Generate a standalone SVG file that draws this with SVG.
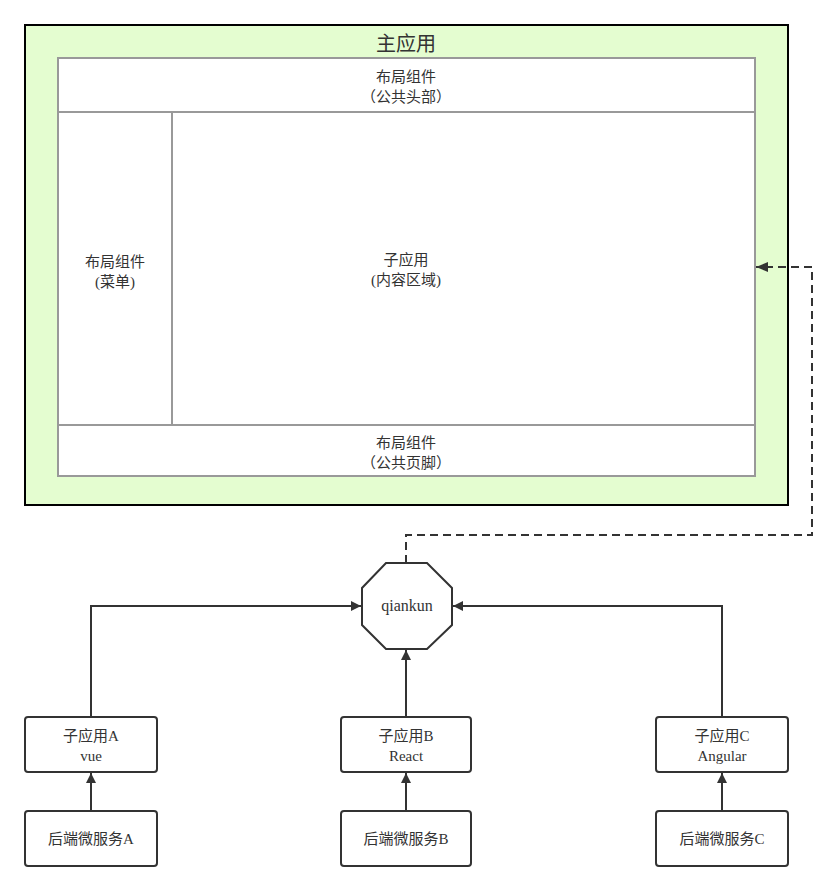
<svg xmlns="http://www.w3.org/2000/svg" width="837" height="891" viewBox="0 0 837 891">
<defs>
<style>
text{font-family:"Liberation Serif","Noto Sans CJK SC",serif;font-size:15px;fill:#333;text-anchor:middle}
.panel{fill:#fff;stroke:#999;stroke-width:2}
.box{fill:#fff;stroke:#333;stroke-width:2}
.conn{fill:none;stroke:#333;stroke-width:2}
.dash{stroke-dasharray:8 5}
</style>
<marker id="ah" viewBox="0 0 10 10" refX="10" refY="5" markerWidth="10" markerHeight="10" markerUnits="userSpaceOnUse" orient="auto">
<path d="M0,0 L10,5 L0,10 z" fill="#333"/>
</marker>
<marker id="ah2" viewBox="0 0 12 10" refX="12" refY="5" markerWidth="12" markerHeight="10" markerUnits="userSpaceOnUse" orient="auto">
<path d="M0,0 L12,5 L0,10 z" fill="#333"/>
</marker>
</defs>
<g id="main-app">
<rect x="25" y="25" width="763" height="480" fill="#e4fdd0" stroke="#000" stroke-width="2"/>
<text x="406" y="51" style="font-size:20px">主应用</text>
</g>
<g id="header">
<rect class="panel" x="58" y="58" width="697" height="54"/>
<text x="406" y="82">布局组件</text>
<text x="406" y="102">（公共头部）</text>
</g>
<g id="menu">
<rect class="panel" x="58" y="112" width="114" height="313"/>
<text x="115" y="267">布局组件</text>
<text x="115" y="287">(菜单)</text>
</g>
<g id="content">
<rect class="panel" x="172" y="112" width="583" height="313"/>
<text x="406" y="265">子应用</text>
<text x="406" y="285">(内容区域)</text>
</g>
<g id="footer">
<rect class="panel" x="58" y="425" width="697" height="51"/>
<text x="406" y="448">布局组件</text>
<text x="406" y="468">（公共页脚）</text>
</g>
<g id="qiankun">
<polygon class="box" points="386,563 427,563 452,588 452,625 427,649 386,649 362,625 362,588"/>
<text x="407" y="611" style="font-size:16px">qiankun</text>
</g>
<g id="appA">
<rect class="box" x="25" y="717" width="132" height="55" rx="3"/>
<text x="91" y="741">子应用A</text>
<text x="91" y="761">vue</text>
</g>
<g id="appB">
<rect class="box" x="341" y="717" width="130" height="55" rx="3"/>
<text x="406" y="741">子应用B</text>
<text x="406" y="761">React</text>
</g>
<g id="appC">
<rect class="box" x="656" y="717" width="132" height="55" rx="3"/>
<text x="722" y="741">子应用C</text>
<text x="722" y="761">Angular</text>
</g>
<g id="svcA">
<rect class="box" x="25" y="811" width="132" height="55" rx="3"/>
<text x="91" y="844">后端微服务A</text>
</g>
<g id="svcB">
<rect class="box" x="341" y="811" width="130" height="55" rx="3"/>
<text x="406" y="844">后端微服务B</text>
</g>
<g id="svcC">
<rect class="box" x="656" y="811" width="132" height="55" rx="3"/>
<text x="722" y="844">后端微服务C</text>
</g>
<g id="connectors">
<path class="conn dash" d="M406,563 V535 H812 V267 H756" marker-end="url(#ah2)"/>
<path class="conn" d="M91,717 V606 H361" marker-end="url(#ah)"/>
<path class="conn" d="M406,717 V650" marker-end="url(#ah)"/>
<path class="conn" d="M722,717 V606 H453" marker-end="url(#ah)"/>
<path class="conn" d="M91,811 V773" marker-end="url(#ah)"/>
<path class="conn" d="M406,811 V773" marker-end="url(#ah)"/>
<path class="conn" d="M722,811 V773" marker-end="url(#ah)"/>
</g>
</svg>
